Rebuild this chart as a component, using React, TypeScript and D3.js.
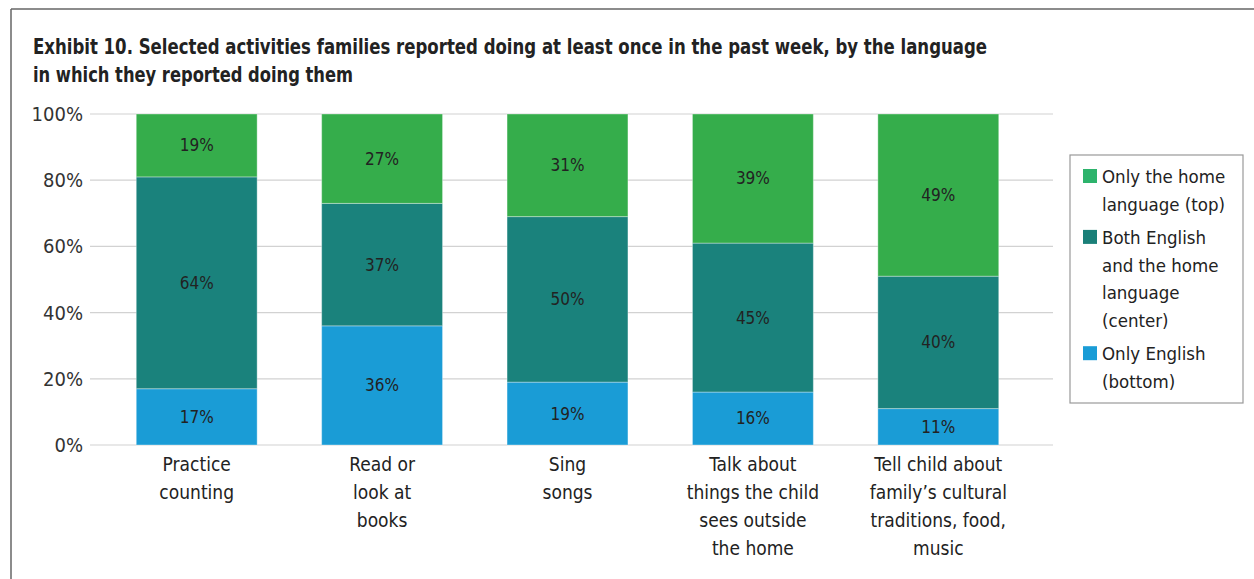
import React from 'react'
import * as d3 from 'd3'

const categories = [
  'Practice\ncounting',
  'Read or\nlook at\nbooks',
  'Sing\nsongs',
  'Talk about\nthings the child\nsees outside\nthe home',
  "Tell child about\nfamily’s cultural\ntraditions, food,\nmusic",
]
const onlyEnglish = [17, 36, 19, 16, 11]
const bothLanguages = [64, 37, 50, 45, 40]
const onlyHome = [19, 27, 31, 39, 49]
const yTicks = [0, 20, 40, 60, 80, 100]

const seriesKeys = ['english', 'both', 'home']
const seriesColors: Record<string, string> = {
  english: '#1a9cd6',
  both: '#1a827c',
  home: '#35ad4b',
}
const legendItems = [
  { key: 'home', color: '#2db36c', lines: ['Only the home', 'language (top)'] },
  { key: 'both', color: '#1a7f78', lines: ['Both English', 'and the home', 'language', '(center)'] },
  { key: 'english', color: '#1a9cd6', lines: ['Only English', '(bottom)'] },
]

const W = 1254
const H = 579
const font = "'Liberation Sans Narrow', 'DejaVu Sans Condensed', 'Arial Narrow', sans-serif"

export default function App() {
  const rows = categories.map((c, i) => ({
    cat: c,
    english: onlyEnglish[i],
    both: bothLanguages[i],
    home: onlyHome[i],
  }))
  const stacked = d3.stack<any>().keys(seriesKeys)(rows)

  const x = d3.scaleBand<string>()
    .domain(categories)
    .range([104, 1031])
    .paddingInner(0.348)
    .paddingOuter(0.174)
  const y = d3.scaleLinear().domain([0, 100]).range([445, 114])

  return (
    <svg width={W} height={H} style={{ position: 'fixed', left: 0, top: 0, background: '#fff' }} fontFamily={font}>
      {/* frame */}
      <line x1={11} y1={9} x2={W} y2={9} stroke="#666" strokeWidth={1.5} />
      <line x1={11} y1={9} x2={11} y2={H} stroke="#666" strokeWidth={1.5} />

      {/* title */}
      <text x={33} y={54} fontSize={22} fontWeight="bold" fill="#222" textLength={954} lengthAdjust="spacingAndGlyphs">
        Exhibit 10. Selected activities families reported doing at least once in the past week, by the language
      </text>
      <text x={33} y={82} fontSize={22} fontWeight="bold" fill="#222" textLength={320} lengthAdjust="spacingAndGlyphs">
        in which they reported doing them
      </text>

      {/* grid + y axis */}
      {yTicks.map(t => (
        <g key={t}>
          <line x1={90} x2={1053} y1={y(t)} y2={y(t)} stroke="#d2d2d2" strokeWidth={1.2} />
          <text x={83} y={y(t)} dy="0.35em" textAnchor="end" fontSize={20} fill="#333">{t}%</text>
        </g>
      ))}

      {/* bars */}
      {stacked.map(layer => (
        <g key={layer.key} fill={seriesColors[layer.key]}>
          {layer.map((d, i) => {
            const x0 = x(categories[i]) as number
            const yTop = y(d[1])
            const yBot = y(d[0])
            return (
              <g key={i}>
                <rect x={x0} y={yTop} width={x.bandwidth()} height={yBot - yTop}
                  stroke="#ffffff" strokeOpacity={0.35} strokeWidth={1} />
                <text x={x0 + x.bandwidth() / 2} y={(yTop + yBot) / 2} dy="0.35em"
                  textAnchor="middle" fontSize={17} fill="#222">
                  {Math.round(d[1] - d[0])}%
                </text>
              </g>
            )
          })}
        </g>
      ))}

      {/* category labels */}
      {categories.map(c => (
        <text key={c} x={(x(c) as number) + x.bandwidth() / 2} y={471} textAnchor="middle" fontSize={19} fill="#222">
          {c.split('\n').map((ln, j) => (
            <tspan key={j} x={(x(c) as number) + x.bandwidth() / 2} dy={j === 0 ? 0 : 28}>{ln}</tspan>
          ))}
        </text>
      ))}

      {/* legend */}
      <rect x={1070} y={155} width={173} height={248} fill="#fff" stroke="#999" strokeWidth={1.2} />
      {(() => {
        let cy = 183
        return legendItems.map(item => {
          const top = cy
          cy += item.lines.length * 27.7 + 5.5
          return (
            <g key={item.key}>
              <rect x={1083} y={top - 14} width={14} height={14} fill={item.color} />
              <text x={1102} y={top} fontSize={18.5} fill="#222">
                {item.lines.map((ln, j) => (
                  <tspan key={j} x={1102} dy={j === 0 ? 0 : 27.7}>{ln}</tspan>
                ))}
              </text>
            </g>
          )
        })
      })()}
    </svg>
  )
}
